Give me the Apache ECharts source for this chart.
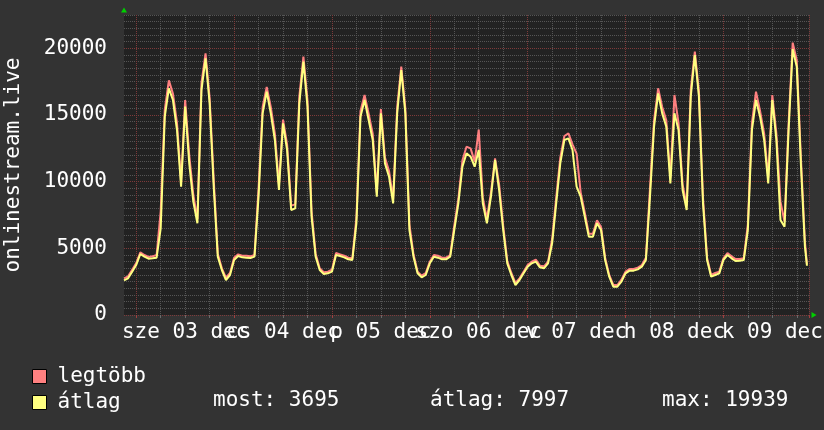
<!DOCTYPE html>
<html><head><meta charset="utf-8">
<script src="https://cdn.jsdelivr.net/npm/echarts@6/dist/echarts.min.js"></script>
<style>html,body{margin:0;padding:0;background:#333333;}#c{width:824px;height:430px;}</style>
</head><body><div id="c"></div>
<script>
// ---- data (hours relative to Wed 03 Dec 00:00) ----
const seriesNames = ['legtöbb', 'átlag'];
const startHour = -3;
const lastHour = 164.5;
const avgValues = [
  2600, 2750, 3250, 3750, 4575, 4375, 4225, 4250, 4300, 6500,
  14875, 17000, 16125, 13875, 9625, 15625, 11375, 8500, 6875, 16875,
  19250, 15875, 9625, 4375, 3375, 2625, 3000, 4125, 4425, 4325,
  4300, 4275, 4375, 8875, 15125, 16750, 15125, 13125, 9375, 14375,
  12375, 7875, 8000, 15875, 19000, 15625, 7375, 4375, 3375, 3075,
  3125, 3250, 4500, 4425, 4325, 4175, 4125, 6875, 14875, 16125,
  14625, 13125, 8875, 15125, 11375, 10375, 8375, 15125, 18375, 15125,
  6375, 4375, 3125, 2825, 3000, 3875, 4375, 4300, 4175, 4175,
  4375, 6375, 8375, 11125, 12125, 11875, 11125, 12375, 8375, 6875,
  8875, 11625, 9375, 6375, 3875, 3000, 2250, 2625, 3125, 3625,
  3875, 4000, 3575, 3500, 3875, 5375, 8375, 11375, 13125, 13250,
  12375, 9625, 8875, 7375, 5875, 5875, 6875, 6375, 4125, 2875,
  2125, 2125, 2500, 3125, 3325, 3325, 3425, 3625, 4125, 8875,
  14125, 16625, 15125, 14125, 9875, 15125, 13875, 9375, 7875, 16375,
  19500, 16375, 8375, 4125, 2875, 3000, 3125, 4125, 4500, 4250,
  4050, 4075, 4125, 6375, 13875, 16125, 14875, 13125, 9875, 16125,
  13125, 7125, 6625, 13875, 19939, 18625, 11375, 5125, 3695
];
const maxValues = [
  2750, 2900, 3400, 3900, 4700, 4500, 4350, 4400, 4500, 7800,
  15400, 17600, 16600, 14400, 10000, 16125, 12000, 9000, 7200, 17400,
  19625, 16300, 10200, 4600, 3500, 2800, 3150, 4300, 4550, 4450,
  4450, 4400, 4500, 9500, 15600, 17100, 15600, 13600, 9800, 14650,
  12800, 8200, 8300, 16400, 19375, 16100, 7800, 4600, 3500, 3200,
  3250, 3400, 4650, 4550, 4450, 4300, 4250, 7300, 15300, 16500,
  15100, 13600, 9200, 15450, 11800, 10800, 8700, 15600, 18625, 15500,
  6800, 4550, 3250, 2950, 3150, 4000, 4500, 4450, 4300, 4300,
  4500, 6700, 8700, 11600, 12625, 12500, 11500, 13900, 8800, 7200,
  9200, 11750, 9800, 6700, 4050, 3150, 2400, 2750, 3250, 3750,
  4000, 4150, 3700, 3650, 4000, 5700, 8800, 11800, 13425, 13625,
  12800, 12100, 9200, 7700, 6100, 6100, 7100, 6600, 4300, 3000,
  2250, 2250, 2650, 3250, 3450, 3450, 3550, 3750, 4300, 9500,
  14600, 17000, 15600, 14600, 10300, 16500, 14400, 9800, 8200, 16900,
  19750, 16800, 8800, 4300, 3000, 3150, 3250, 4250, 4650, 4400,
  4200, 4200, 4250, 6800, 14400, 16750, 15300, 13600, 10300, 16500,
  13600, 8500, 7000, 14400, 20425, 19100, 11900, 5500, 3800
];
const dayLabels = ['sze 03 dec', 'cs 04 dec', 'p 05 dec', 'szo 06 dec', 'v 07 dec', 'h 08 dec', 'k 09 dec'];
const yTickLabels = [0, 5000, 10000, 15000, 20000];
const statNames = ['most', 'átlag', 'max'];
const statValues = [3695, 7997, 19939];
const yAxisTitle = 'onlinestream.live';

// ---- build ----
const hours = avgValues.map((_, i) => i < avgValues.length - 1 ? startHour + i : lastHour);
const avgData = avgValues.map((v, i) => [hours[i], v]);
const maxData = maxValues.map((v, i) => [hours[i], v]);

const FONT = 'DejaVu Sans Mono';
const FS = 21;
const MAJOR = '#7e3a3a';
const MINOR = '#555555';

// layout of the plot area
const plotLeft = 124, plotRight = 809, plotTop = 15, plotBottom = 315, W = 824, H = 430;
const xMin = -3, xMax = 165;
// helper grids that start at midnight so that grid lines are counted from 0
const midLeft = plotLeft + (0 - xMin) * (plotRight - plotLeft) / (xMax - xMin);
const gridBase = {right: W - plotRight, top: plotTop, bottom: H - plotBottom, outerBoundsMode: 'none', containLabel: false};

function helperX(gridIndex, interval, color, tickColor) {
  return {
    type: 'value', gridIndex, min: 0, max: xMax, interval, position: 'bottom', z: 1,
    axisLine: {show: false, onZero: false},
    axisTick: {show: true, length: 3, lineStyle: {color: tickColor}},
    axisLabel: {show: false},
    splitLine: {show: true, lineStyle: {color, type: [1, 1], width: 1}}
  };
}
function helperY(gridIndex) {
  return {type: 'value', gridIndex, min: 0, max: 1, show: false, splitLine: {show: false}};
}

const chart = echarts.init(document.getElementById('c'), null, {renderer: 'canvas'});
const statLefts = [213, 430, 662];
chart.setOption({
  animation: false,
  backgroundColor: '#333333',
  title: statNames.map((n, i) => ({
    text: n + ': ' + statValues[i],
    left: statLefts[i], top: 390, padding: 0,
    textStyle: {color: '#ffffff', fontFamily: FONT, fontSize: FS, fontWeight: 'normal'}
  })),
  legend: {
    data: seriesNames,
    orient: 'vertical',
    left: 32, top: 366, padding: 0,
    icon: 'rect',
    itemWidth: 14, itemHeight: 14, itemGap: 5,
    itemStyle: {borderColor: '#000000', borderWidth: 1},
    textStyle: {color: '#ffffff', fontFamily: FONT, fontSize: FS, padding: [0, 0, 0, 6]}
  },
  grid: [
    Object.assign({left: plotLeft, show: true, backgroundColor: '#222222', borderWidth: 0, z: -1}, gridBase),
    Object.assign({left: midLeft, show: false}, gridBase),
    Object.assign({left: midLeft, show: false}, gridBase)
  ],
  xAxis: [{
    type: 'value', gridIndex: 0, min: xMin, max: xMax, interval: 3,
    axisLine: {show: true, onZero: false, symbol: ['none', 'triangle'], symbolSize: [6, 5], symbolOffset: [0, 5], lineStyle: {color: '#00d000', width: 0}},
    axisTick: {show: false},
    axisLabel: {
      color: '#ffffff', fontFamily: FONT, fontSize: FS, margin: 7,
      formatter: v => ((v - 12) % 24 === 0 && v >= 12) ? dayLabels[(v - 12) / 24] : ''
    },
    splitLine: {show: false}
  },
  helperX(1, 6, MINOR, '#6a6a6a'),
  helperX(2, 24, MAJOR, '#a04040')],
  yAxis: [{
    type: 'value', gridIndex: 0, min: 0, max: 22500, interval: 500,
    name: yAxisTitle, nameLocation: 'middle', nameGap: 100,
    nameTextStyle: {color: '#ffffff', fontFamily: FONT, fontSize: FS},
    axisLine: {show: true, onZero: false, symbol: ['none', 'triangle'], symbolSize: [6, 5], symbolOffset: [0, 5], lineStyle: {color: '#00d000', width: 0}},
    axisTick: {show: false},
    axisLabel: {
      color: '#ffffff', fontFamily: FONT, fontSize: FS, margin: 17,
      formatter: v => yTickLabels.includes(v) ? String(v) : ''
    },
    splitLine: {show: true, lineStyle: {color: [MAJOR, MINOR, MINOR, MINOR, MINOR, MINOR, MINOR, MINOR, MINOR, MINOR], type: [1, 1], width: 1}}
  }, helperY(1), helperY(2)],
  series: [{
    name: seriesNames[0], type: 'line', data: maxData, showSymbol: false,
    xAxisIndex: 0, yAxisIndex: 0, z: 3,
    color: '#ff8080', lineStyle: {width: 2, color: '#ff8080'}
  }, {
    name: seriesNames[1], type: 'line', data: avgData, showSymbol: false,
    xAxisIndex: 0, yAxisIndex: 0, z: 3,
    color: '#ffff80', lineStyle: {width: 2, color: '#ffff80'}
  }]
});
</script></body></html>
